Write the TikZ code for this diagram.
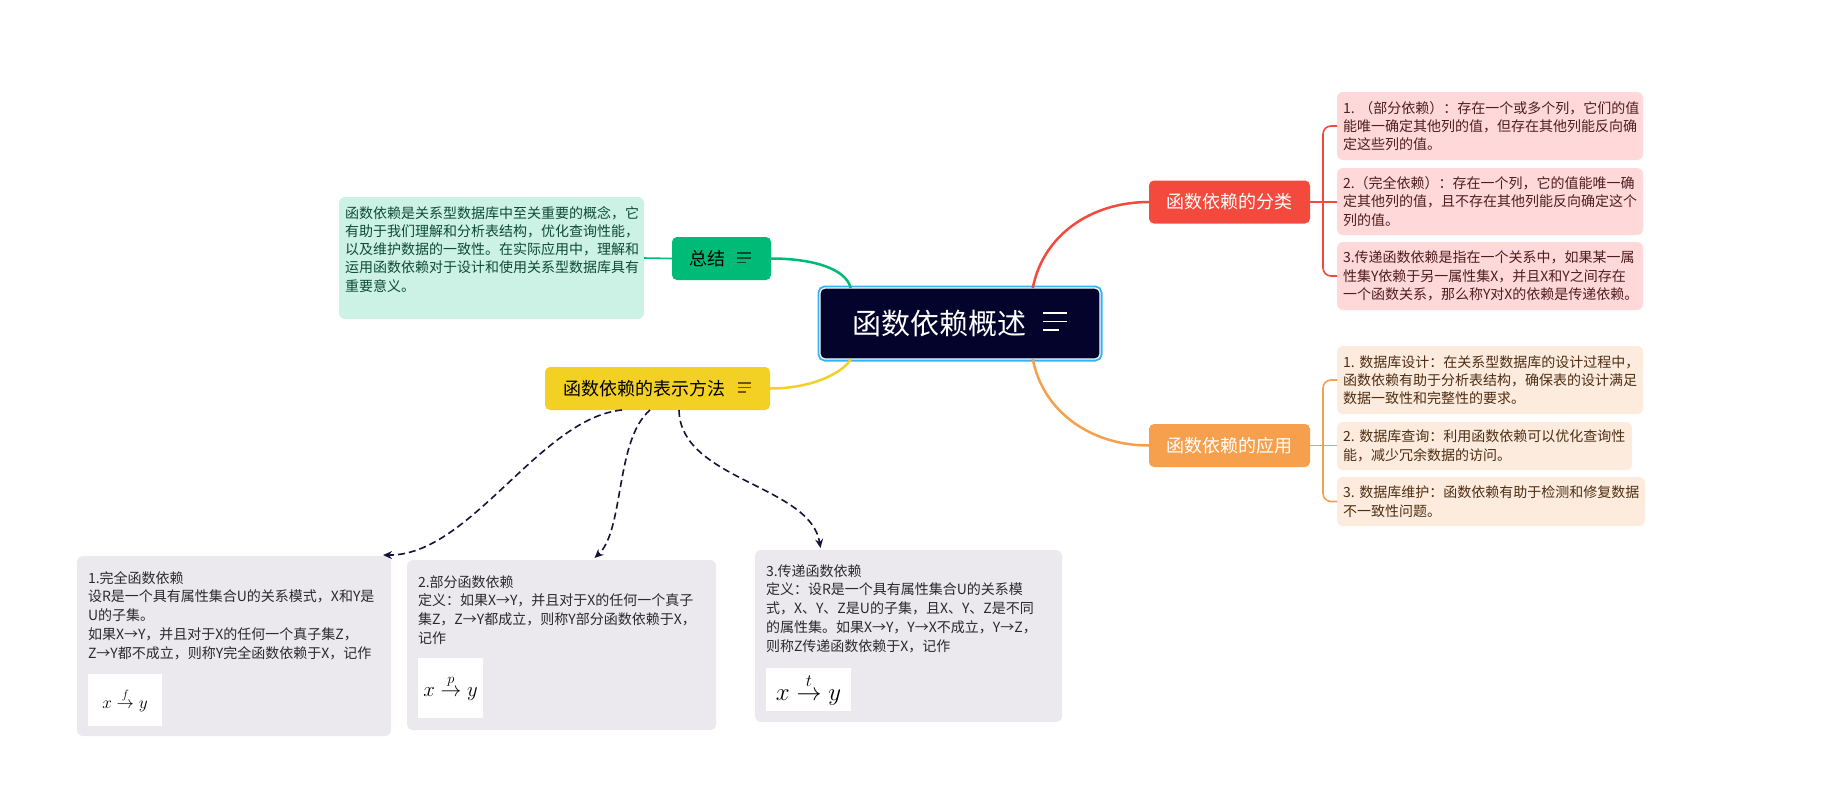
\documentclass[tikz,border=0pt]{standalone}
\usepackage{amsmath}
\usepackage{fontspec}
\setmainfont{Noto Sans CJK SC}
\usepackage{xcolor}
\usetikzlibrary{arrows.meta,calc}
\definecolor{rootNavy}{HTML}{03032B}
\definecolor{rootBlue}{HTML}{36B3F5}
\definecolor{branchRed}{HTML}{F44A3E}
\definecolor{leafRed}{HTML}{FFD9D9}
\definecolor{inkRed}{HTML}{4F1D1D}
\definecolor{branchOrange}{HTML}{F6A04D}
\definecolor{leafOrange}{HTML}{FDEBDD}
\definecolor{inkOrange}{HTML}{4D2E14}
\definecolor{branchGreen}{HTML}{00BB77}
\definecolor{leafGreen}{HTML}{CCF2E6}
\definecolor{inkGreen}{HTML}{0E4A35}
\definecolor{branchYellow}{HTML}{F2D024}
\definecolor{iconYellow}{HTML}{6B5A12}
\definecolor{noteGrey}{HTML}{EBE9EE}
\definecolor{noteInk}{HTML}{2A2A2A}
\definecolor{arrowNavy}{HTML}{14143A}
\tikzset{
  rootTopic/.style={
    rectangle,
    rounded corners=5pt,
    fill=rootNavy,
    draw=white,
    line width=1.2pt,
    preaction={draw=rootBlue,line width=5pt},
    minimum width=280pt,
    minimum height=71pt,
    inner xsep=32pt,
    inner ysep=0pt,
    outer sep=0pt,
    text width=216pt,
    align=left,
    text=white,
    font=\fontsize{29}{34}\selectfont
  },
  branchTopic/.style={
    rectangle,
    rounded corners=5pt,
    minimum height=43pt,
    inner ysep=0pt,
    outer sep=0pt,
    font=\fontsize{18}{22}\selectfont
  },
  leafBox/.style={
    rectangle,
    rounded corners=6pt,
    inner xsep=6pt,
    inner ysep=0pt,
    outer sep=0pt,
    align=left,
    font=\fontsize{14}{18.3}\selectfont
  },
  noteBox/.style={
    rectangle,
    rounded corners=6pt,
    fill=noteGrey,
    anchor=north west,
    inner sep=11pt,
    outer sep=0pt,
    align=left,
    text=noteInk,
    font=\fontsize{14}{18.8}\selectfont
  },
  formulaBox/.style={
    rectangle,
    fill=white,
    inner sep=0pt,
    outer sep=0pt
  },
  branchLine/.style={
    line width=2.5pt
  },
  leafLine/.style={
    line width=1.6pt,
    rounded corners=8pt
  },
  refArrow/.style={
    draw=arrowNavy,
    line width=1.6pt,
    dash pattern=on 7pt off 4pt,
    -{Stealth[length=9pt,width=8pt]}
  }
}
\newcommand{\noteicon}[5]{%
  \draw[#5,line width=1.7pt] (#1,#2-#4) -- +(#3,0) (#1,#2) -- +(#3,0) (#1,#2+#4) -- +(0.65*#3,0);%
}

\begin{document}
\begin{tikzpicture}[x=1pt,y=-1pt]
  \useasboundingbox (0,0) rectangle (1823,788);
  \node[rootTopic] (root) at (960,323.5) {函数依赖概述};
  \noteicon{1043}{321.5}{24}{8.2}{white}

  \node[branchTopic,fill=branchRed,text=white,minimum width=161pt] (cls) at (1229.5,202) {函数依赖的分类};
  \node[branchTopic,fill=branchOrange,text=white,minimum width=161pt] (app) at (1229.5,445.5) {函数依赖的应用};
  \node[branchTopic,fill=branchGreen,text=black,inner xsep=17pt,text width=65pt,align=left] (sum) at (721.5,258.5) {总结};
  \noteicon{737}{257.7}{14}{4.8}{inkGreen}
  \node[branchTopic,fill=branchYellow,text=black,inner xsep=18pt,text width=189pt,align=left] (rep) at (657.5,388.5) {函数依赖的表示方法};
  \noteicon{737.5}{387.5}{13.5}{4.8}{iconYellow}

  \node[leafBox,fill=leafRed,text=inkRed,text width=294pt,minimum height=68pt] (r1) at (1490,126) {1.~（部分依赖）：存在一个或多个列，它们的值\\能唯一确定其他列的值，但存在其他列能反向确\\定这些列的值。};
  \node[leafBox,fill=leafRed,text=inkRed,text width=294pt,minimum height=67pt] (r2) at (1490,201.5) {2.（完全依赖）：存在一个列，它的值能唯一确\\定其他列的值，且不存在其他列能反向确定这个\\列的值。};
  \node[leafBox,fill=leafRed,text=inkRed,text width=294pt,minimum height=68pt] (r3) at (1490,276) {3.传递函数依赖是指在一个关系中，如果某一属\\性集Y依赖于另一属性集X，并且X和Y之间存在\\一个函数关系，那么称Y对X的依赖是传递依赖。};

  \node[leafBox,fill=leafOrange,text=inkOrange,text width=294pt,minimum height=68pt] (o1) at (1490,380) {1.~数据库设计：在关系型数据库的设计过程中，\\函数依赖有助于分析表结构，确保表的设计满足\\数据一致性和完整性的要求。};
  \node[leafBox,fill=leafOrange,text=inkOrange,text width=283pt,minimum height=48pt] (o2) at (1484.5,446) {2.~数据库查询：利用函数依赖可以优化查询性\\能，减少冗余数据的访问。};
  \node[leafBox,fill=leafOrange,text=inkOrange,text width=296pt,minimum height=49pt] (o3) at (1491,501.5) {3.~数据库维护：函数依赖有助于检测和修复数据\\不一致性问题。};

  \node[leafBox,fill=leafGreen,text=inkGreen,anchor=north west,inner ysep=8pt,text width=293pt,text height=13pt,text depth=93pt] (gleaf) at (339,197) {函数依赖是关系型数据库中至关重要的概念，它\\有助于我们理解和分析表结构，优化查询性能，\\以及维护数据的一致性。在实际应用中，理解和\\运用函数依赖对于设计和使用关系型数据库具有\\重要意义。};

  \node[noteBox,text width=292pt,text height=16pt,text depth=142pt] (fullDep) at (77,556) {1.完全函数依赖\\设R是一个具有属性集合U的关系模式，X和Y是\\U的子集。\\如果X→Y，并且对于X的任何一个真子集Z，\\Z→Y都不成立，则称Y完全函数依赖于X，记作};
  \node[noteBox,text width=287pt,text height=16pt,text depth=132pt] (partDep) at (407,560) {2.部分函数依赖\\定义：如果X→Y，并且对于X的任何一个真子\\集Z，Z→Y都成立，则称Y部分函数依赖于X，\\记作};
  \node[noteBox,text width=285pt,text height=15pt,text depth=135pt] (transDep) at (755,550) {3.传递函数依赖\\定义：设R是一个具有属性集合U的关系模\\式，X、Y、Z是U的子集，且X、Y、Z是不同\\的属性集。如果X→Y，Y→X不成立，Y→Z，\\则称Z传递函数依赖于X，记作};
  \node[formulaBox,minimum width=74pt,minimum height=52pt,font=\fontsize{16.5}{20}\selectfont] (fullMath) at (125,700) {$x\overset{f}{\to}y$};
  \node[formulaBox,minimum width=65pt,minimum height=60pt,font=\fontsize{21}{25}\selectfont] (partMath) at (450.5,688) {$x\overset{p}{\to}y$};
  \node[formulaBox,minimum width=85pt,minimum height=43pt,font=\fontsize{23.5}{28}\selectfont] (transMath) at (808.5,689.5) {$x\overset{t}{\to}y$};

  \draw[branchLine,branchRed] (root.26) .. controls +(10,-52) and +(-59,0) .. (cls.west);
  \draw[branchLine,branchOrange] (root.-26) .. controls +(10,52) and +(-59,0) .. (app.west);
  \draw[branchLine,branchGreen] (sum.east) .. controls +(40,0) and +(-5,-20) .. (root.162);
  \draw[branchLine,branchYellow] (rep.east) .. controls +(45,0) and +(-6,12) .. (root.198);

  \draw[leafLine,branchRed] (cls.east) -- (cls.east -| r2.west);
  \draw[leafLine,branchRed] (cls.east) ++(13,0) |- (r1.west);
  \draw[leafLine,branchRed] (cls.east) ++(13,0) |- (r3.west);
  \draw[leafLine,branchOrange] (app.east) -- (app.east -| o2.west);
  \draw[leafLine,branchOrange] (app.east) ++(13,0) |- (o1.west);
  \draw[leafLine,branchOrange] (app.east) ++(13,0) |- (o3.west);
  \draw[leafLine,branchGreen] (sum.west) -- (gleaf.east);

  \draw[refArrow] ($(rep.south)+(-35.5,0)$) .. controls +(-82,8) and +(87,1) .. ($(fullDep.north east)+(-8,-1)$);
  \draw[refArrow] ($(rep.south)+(-7.5,0)$) .. controls +(-35,30) and +(30,-28) .. ($(partDep.north)+(33,-2)$);
  \draw[refArrow] ($(rep.south)+(21.5,0)$) .. controls +(1,70) and +(-10,-63) .. ($(transDep.north)+(-88,-2)$);
\end{tikzpicture}
\end{document}
